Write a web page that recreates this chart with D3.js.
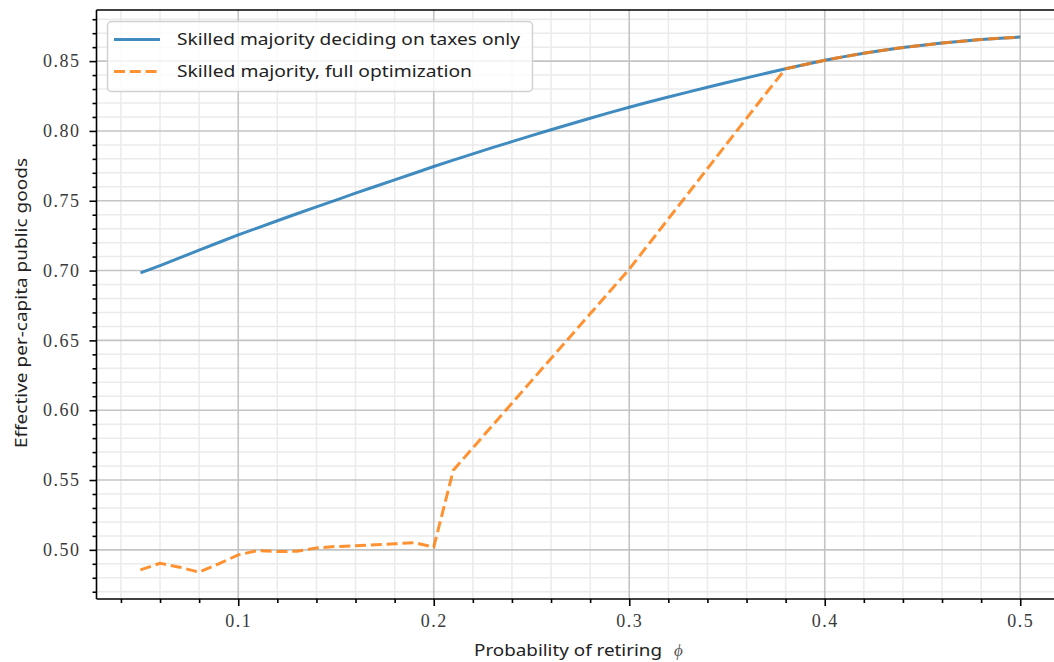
<!DOCTYPE html>
<html><head><meta charset="utf-8">
<script src="https://cdn.jsdelivr.net/npm/d3@7"></script>
<style>body{margin:0;background:#fff;overflow:hidden}svg{display:block}</style>
</head><body><svg id="c" width="1054" height="662"></svg>
<script>
const phi = [0.05,0.06,0.07,0.08,0.09,0.10,0.11,0.12,0.13,0.14,0.15,0.16,0.17,0.18,0.19,0.20,0.21,0.22,0.23,0.24,0.25,0.26,0.27,0.28,0.29,0.30,0.31,0.32,0.33,0.34,0.35,0.36,0.37,0.38,0.39,0.40,0.41,0.42,0.43,0.44,0.45,0.46,0.47,0.48,0.49,0.50];
const taxesOnly = [0.6984,0.7036,0.7091,0.7146,0.7201,0.7255,0.7306,0.7357,0.7407,0.7456,0.7505,0.7554,0.7602,0.7650,0.7697,0.7745,0.7791,0.7836,0.7880,0.7923,0.7966,0.8008,0.8050,0.8091,0.8131,0.8170,0.8207,0.8243,0.8278,0.8313,0.8347,0.8380,0.8413,0.8445,0.8476,0.8506,0.8532,0.8556,0.8578,0.8597,0.8614,0.8629,0.8642,0.8654,0.8664,0.8672];
const fullOpt = [0.4857,0.4904,0.4876,0.4840,0.4900,0.4964,0.4995,0.4988,0.4990,0.5014,0.5024,0.5029,0.5036,0.5043,0.5052,0.5019,0.557,0.573,0.589,0.605,0.621,0.637,0.653,0.669,0.685,0.701,0.719,0.737,0.755,0.773,0.791,0.809,0.827,0.8445,0.8476,0.8506,0.8532,0.8556,0.8578,0.8597,0.8614,0.8629,0.8642,0.8654,0.8664,0.8672];
const xTicks = [0.1,0.2,0.3,0.4,0.5];
const xTickLabels = ["0.1","0.2","0.3","0.4","0.5"];
const yTicks = [0.50,0.55,0.60,0.65,0.70,0.75,0.80,0.85];
const yTickLabels = ["0.50","0.55","0.60","0.65","0.70","0.75","0.80","0.85"];
const xMinor = [0.04,0.06,0.08,0.12,0.14,0.16,0.18,0.22,0.24,0.26,0.28,0.32,0.34,0.36,0.38,0.42,0.44,0.46,0.48,0.52];
const yMinor = [0.47,0.48,0.49,0.51,0.52,0.53,0.54,0.56,0.57,0.58,0.59,0.61,0.62,0.63,0.64,0.66,0.67,0.68,0.69,0.71,0.72,0.73,0.74,0.76,0.77,0.78,0.79,0.81,0.82,0.83,0.84,0.86,0.87,0.88];
const seriesNames = ["Skilled majority deciding on taxes only","Skilled majority, full optimization"];
const xLabel = "Probability of retiring";
const yLabel = "Effective per-capita public goods";

const svg = d3.select("#c");
const L = 96.5, R = 96.5 + 0.495*1955, T = 10, B = 599;
const x = d3.scaleLinear().domain([0.0275, 0.5225]).range([L, R]);
const y = d3.scaleLinear().domain([0.4648, 0.8866]).range([B, T]);

const g = svg.append("g");
// minor grid
g.selectAll(".mgx").data(xMinor).join("line").attr("x1",d=>x(d)).attr("x2",d=>x(d)).attr("y1",T).attr("y2",B).attr("stroke","#ebebeb").attr("stroke-width",1.5);
g.selectAll(".mgy").data(yMinor).join("line").attr("y1",d=>y(d)).attr("y2",d=>y(d)).attr("x1",L).attr("x2",R).attr("stroke","#ebebeb").attr("stroke-width",1.5);
// major grid
g.selectAll(".Mgx").data(xTicks).join("line").attr("x1",d=>x(d)).attr("x2",d=>x(d)).attr("y1",T).attr("y2",B).attr("stroke","#c4c4c4").attr("stroke-width",1.6);
g.selectAll(".Mgy").data(yTicks).join("line").attr("y1",d=>y(d)).attr("y2",d=>y(d)).attr("x1",L).attr("x2",R).attr("stroke","#c4c4c4").attr("stroke-width",1.6);

// lines
const pts1 = phi.map((p,i)=>[p,taxesOnly[i]]);
const pts2 = phi.map((p,i)=>[p,fullOpt[i]]);
const line = d3.line().x(d=>x(d[0])).y(d=>y(d[1]));
g.append("path").attr("d",line(pts1)).attr("fill","none").attr("stroke","#1f77b4").attr("stroke-opacity",0.85).attr("stroke-width",3);
g.append("path").attr("d",line(pts2)).attr("fill","none").attr("stroke","#ff7f0e").attr("stroke-opacity",0.85).attr("stroke-width",3).attr("stroke-dasharray","11,4.8");

// axes
const xAxis = d3.axisBottom(x).tickValues(xTicks).tickFormat((d,i)=>xTickLabels[i]).tickSize(7).tickPadding(8);
const xAxisMinor = d3.axisBottom(x).tickValues(xMinor).tickFormat("").tickSize(4);
const yAxis = d3.axisLeft(y).tickValues(yTicks).tickFormat((d,i)=>yTickLabels[i]).tickSize(7).tickPadding(9);
const yAxisMinor = d3.axisLeft(y).tickValues(yMinor).tickFormat("").tickSize(4);
function style(sel){
  sel.select(".domain").remove();
  sel.selectAll(".tick line").attr("stroke","#000").attr("stroke-width",1.6);
  sel.selectAll(".tick text").attr("font-family","'Liberation Serif', serif").attr("font-size",18).attr("fill","#3a3a3a").attr("letter-spacing","1.5px");
}
g.append("g").attr("transform",`translate(0,${B})`).call(xAxisMinor).call(style);
g.append("g").attr("transform",`translate(0,${B})`).call(xAxis).call(style);
g.append("g").attr("transform",`translate(${L},0)`).call(yAxisMinor).call(style);
g.append("g").attr("transform",`translate(${L},0)`).call(yAxis).call(style);

// spines
g.append("line").attr("x1",L).attr("x2",R).attr("y1",B).attr("y2",B).attr("stroke","#000").attr("stroke-width",1.6);
g.append("line").attr("x1",L).attr("x2",R).attr("y1",T).attr("y2",T).attr("stroke","#000").attr("stroke-width",1.6);
g.append("line").attr("x1",L).attr("x2",L).attr("y1",T).attr("y2",B).attr("stroke","#000").attr("stroke-width",1.6);
g.append("line").attr("x1",R).attr("x2",R).attr("y1",T).attr("y2",B).attr("stroke","#000").attr("stroke-width",1.6);

// axis labels
svg.append("text").attr("x",474).attr("y",656)
  .attr("font-family","'Noto Sans', sans-serif").attr("font-size",16).attr("fill","#222")
  .attr("textLength",188).attr("lengthAdjust","spacingAndGlyphs").text(xLabel);
svg.append("text").attr("x",674).attr("y",656)
  .attr("font-family","'Liberation Serif', serif").attr("font-style","italic").attr("font-size",17).attr("fill","#555").text("ϕ");
svg.append("text").attr("transform",`translate(27,303) rotate(-90)`).attr("text-anchor","middle")
  .attr("font-family","'Noto Sans', sans-serif").attr("font-size",16).attr("fill","#222")
  .attr("textLength",290).attr("lengthAdjust","spacingAndGlyphs").text(yLabel);

// legend
const lg = svg.append("g");
lg.append("rect").attr("x",107.5).attr("y",21.5).attr("width",425).attr("height",70).attr("rx",4)
  .attr("fill","#fff").attr("fill-opacity",0.8).attr("stroke","#d0d0d0").attr("stroke-width",1.4);
const legY = [39.5, 71.5];
const legCol = ["#1f77b4","#ff7f0e"];
const legLen = [343, 295];
seriesNames.forEach((n,i)=>{
  lg.append("line").attr("x1",114).attr("x2",160).attr("y1",legY[i]).attr("y2",legY[i])
    .attr("stroke",legCol[i]).attr("stroke-opacity",0.85).attr("stroke-width",3).attr("stroke-dasharray",i?"11,4.8":null);
  lg.append("text").attr("x",177).attr("y",legY[i]+5.5).attr("font-family","'Noto Sans', sans-serif")
    .attr("font-size",16).attr("fill","#222").attr("textLength",legLen[i]).attr("lengthAdjust","spacingAndGlyphs").text(n);
});
</script></body></html>
